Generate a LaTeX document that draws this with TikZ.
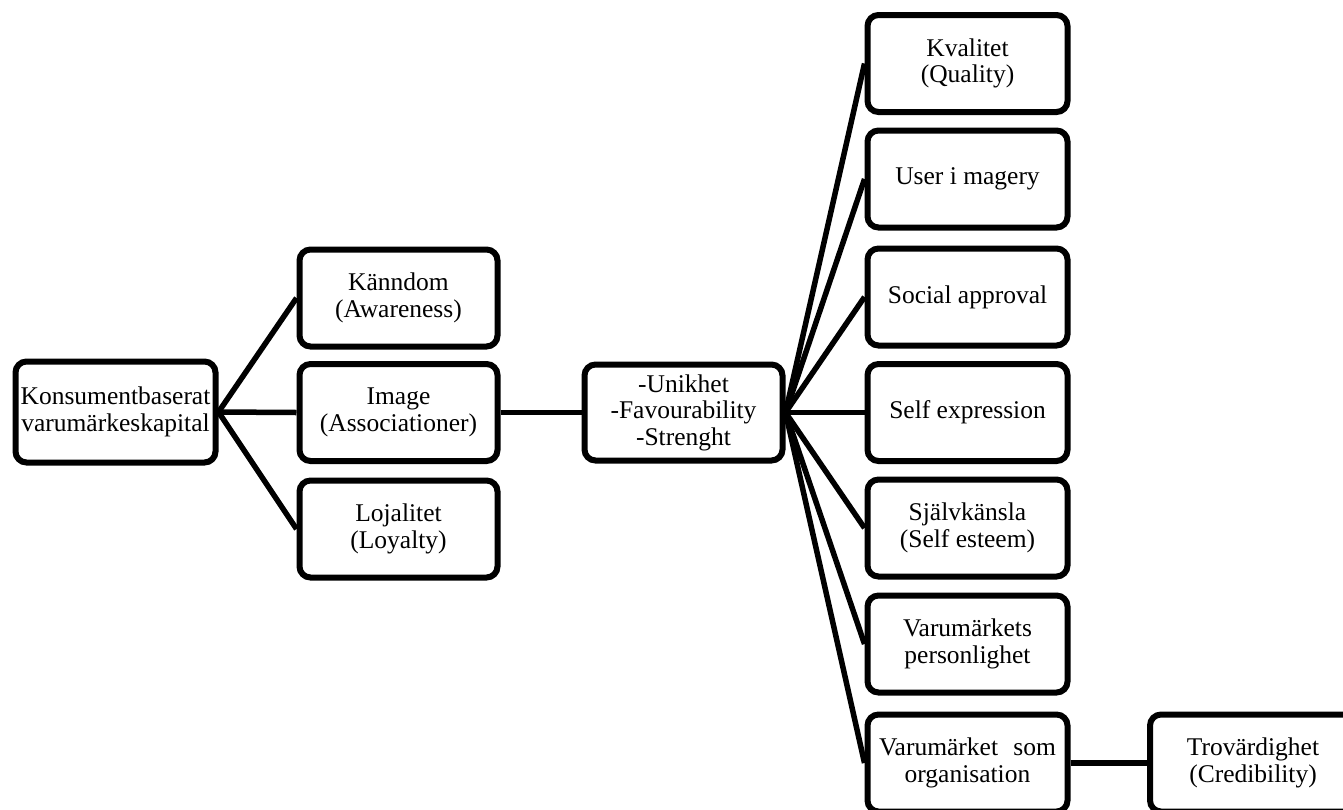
\documentclass[tikz,border=0pt]{standalone}
\usepackage{fontspec}
\setmainfont{Liberation Serif}
\begin{document}
\begin{tikzpicture}[x=1pt,y=1pt,
  box/.style={draw=black, line width=6pt, rounded corners=11pt, fill=white,
    minimum width=198pt, minimum height=97pt, align=center, inner sep=1pt,
    font=\fontsize{25.5}{26.5}\selectfont},
  link/.style={line width=5.5pt}]
\useasboundingbox (0,0) rectangle (1343,-809);
\clip (0,0) rectangle (1343,-809);
% nodes
\node[box, minimum width=200pt, minimum height=101pt] (kon) at (115.5,-412) {Konsumentbaserat\\varumärkeskapital};
\node[box] (kan) at (398.5,-298) {Känndom\\(Awareness)};
\node[box] (ima) at (398.5,-412.5) {Image\\(Associationer)};
\node[box] (loj) at (398.5,-529) {Lojalitet\\(Loyalty)};
\node[box, minimum height=96pt] (uni) at (683.5,-412.5) {-Unikhet\\-Favourability\\-Strenght};
\node[box, minimum width=200pt] (kva) at (967.5,-63.5) {Kvalitet\\(Quality)};
\node[box, minimum width=200pt] (use) at (967.5,-179) {User i magery};
\node[box, minimum width=200pt] (soc) at (967.5,-297) {Social approval};
\node[box, minimum width=200pt] (sel) at (967.5,-412.5) {Self expression};
\node[box, minimum width=200pt] (sjk) at (967.5,-528) {Självkänsla\\(Self esteem)};
\node[box, minimum width=200pt] (per) at (967.5,-644) {Varumärkets\\personlighet};
\node[box, minimum width=200pt] (org) at (967.5,-763) {Varumärket\hspace{0.6em}som\\organisation};
\node[box, minimum width=206pt] (tro) at (1253,-763) {Trovärdighet\\(Credibility)};
% connectors
\draw[link] (kon.east) -- (kan.west);
\draw[link] (kon.east) -- (ima.west);
\draw[link] (kon.east) -- (loj.west);
\draw[link] (ima.east) -- (uni.west);
\foreach \t in {kva,use,soc,sel,sjk,per,org}
  \draw[link] (uni.east) -- (\t.west);
\draw[link] (org.east) -- (tro.west);
\end{tikzpicture}
\end{document}
